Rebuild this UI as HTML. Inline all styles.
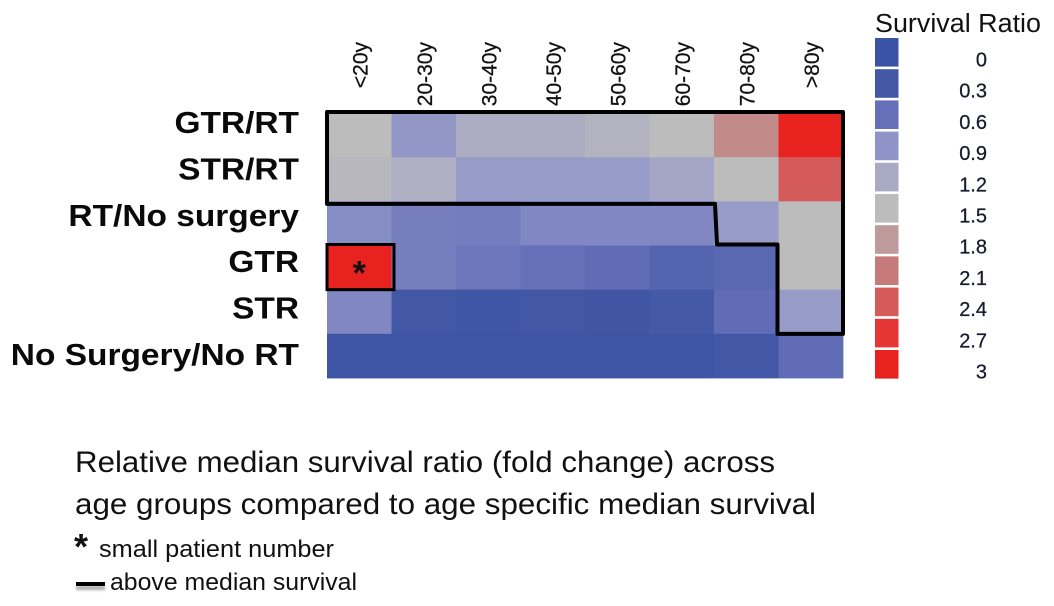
<!DOCTYPE html>
<html>
<head>
<meta charset="utf-8">
<title>Survival Ratio Heatmap</title>
<style>
html,body{margin:0;padding:0;background:#fff;}
svg{display:block;}
text{font-family:"Liberation Sans",sans-serif;}
</style>
</head>
<body>
<svg id="chart" width="1054" height="606" viewBox="0 0 1054 606" xmlns="http://www.w3.org/2000/svg">
  <defs><filter id="soft" x="-20%" y="-200%" width="140%" height="500%"><feGaussianBlur stdDeviation="1.2"></feGaussianBlur></filter></defs>
  <g id="cells"></g>
  <g id="colLabels"></g>
  <g id="rowLabels"></g>
  <g id="outlines"></g>
  <g id="legend"></g>
  <text x="875" y="32" font-size="25.5" textLength="166" lengthAdjust="spacingAndGlyphs" fill="#111">Survival Ratio</text>
  <g>
    <text x="75" y="472" font-size="30" textLength="700" lengthAdjust="spacingAndGlyphs" fill="#111">Relative median survival ratio (fold change) across</text>
    <text x="75" y="514" font-size="30" textLength="741" lengthAdjust="spacingAndGlyphs" fill="#111">age groups compared to age specific median survival</text>
    <text x="74" y="559" font-size="36" font-weight="bold" fill="#111">*</text>
    <text x="99" y="557" font-size="24" textLength="235" lengthAdjust="spacingAndGlyphs" fill="#111">small patient number</text>
    <rect x="76" y="586" width="29" height="4" fill="#888" opacity="0.7" filter="url(#soft)"></rect>
    <rect x="76" y="582" width="29" height="4" fill="#000"></rect>
    <text x="110" y="590" font-size="24" textLength="247" lengthAdjust="spacingAndGlyphs" fill="#111">above median survival</text>
  </g>
</svg>
<script>
const ages = ["<20y","20-30y","30-40y","40-50y","50-60y","60-70y","70-80y",">80y"];
const treatments = ["GTR/RT","STR/RT","RT/No surgery","GTR","STR","No Surgery/No RT"];
const ratios = [
  [1.5,0.95,1.25,1.25,1.35,1.5,1.95,3.0],
  [1.42,1.28,1.0,1.0,1.0,1.15,1.5,2.4],
  [0.85,0.72,0.7,0.8,0.8,0.8,1.0,1.5],
  [3.0,0.72,0.65,0.6,0.55,0.45,0.5,1.5],
  [0.8,0.3,0.15,0.3,0.2,0.32,0.55,1.0],
  [0.1,0.1,0.1,0.1,0.1,0.1,0.25,0.55]
];
const legendTicks = [0,0.3,0.6,0.9,1.2,1.5,1.8,2.1,2.4,2.7,3];
const legendLabels = ["0","0.3","0.6","0.9","1.2","1.5","1.8","2.1","2.4","2.7","3"];
const rampColors = ["#3a53a4","#4358a5","#6670b8","#8e93c8","#a9aac4","#bdbcbc","#bf9a9a","#c77a7a","#d55a5a","#e53535","#e8221f"];

const NS = "http://www.w3.org/2000/svg";
const plot = {left:327, right:843, top:113, bottom:378};
const xAt = i => plot.left + i * (plot.right - plot.left) / ages.length;
const yAt = j => plot.top + j * (plot.bottom - plot.top) / treatments.length;
const hex = (c,i) => parseInt(c.substr(1 + i * 2, 2), 16);
function colorFor(v) {
  const t = Math.max(0, Math.min(3, v)) / 3 * (rampColors.length - 1);
  const a = Math.min(Math.floor(t), rampColors.length - 2);
  const f = t - a;
  const rgb = [0,1,2].map(i => Math.round(hex(rampColors[a],i) * (1 - f) + hex(rampColors[a + 1],i) * f));
  return "rgb(" + rgb.join(",") + ")";
}
function make(tag, attrs, parent, txt) {
  const el = document.createElementNS(NS, tag);
  Object.keys(attrs).forEach(k => el.setAttribute(k, attrs[k]));
  if (txt !== undefined) el.textContent = txt;
  parent.appendChild(el);
  return el;
}

const cellsG = document.getElementById("cells");
ratios.forEach((row, j) => {
  row.forEach((v, i) => {
    const cell = make("rect", {x:xAt(i), y:yAt(j), width:xAt(i+1)-xAt(i)+0.4, height:yAt(j+1)-yAt(j)+0.4, fill:colorFor(v)}, cellsG);
    
    
  });
});

const colG = document.getElementById("colLabels");
ages.forEach((label, i) => {
  const px = xAt(i) + (xAt(i+1) - xAt(i)) / 2 + 8;
  const t = make("text", {transform:"translate(" + px + ",42) rotate(-90)", "text-anchor":"end", "font-size":21, fill:"#111", stroke:"#111", "stroke-width":0.25}, colG, label);
  
  
});
make("rect", {x:plot.left, y:105.5, width:plot.right-plot.left, height:6, fill:"#fff"}, colG);

const rowG = document.getElementById("rowLabels");
const rowLabelY = j => 133 + j * 46.4;
treatments.forEach((label, j) => {
  const t = make("text", {x:0, y:rowLabelY(j), transform:"translate(299,0) scale(1.08,1)", "text-anchor":"end", "font-size":31, "font-weight":"bold", fill:"#0a0a0a"}, rowG, label);
  
  
});

const outG = document.getElementById("outlines");
const stepPath = [
  [xAt(0),yAt(0)-1],[xAt(8),yAt(0)-1],[xAt(8),yAt(5)],[xAt(7)-1,yAt(5)],[xAt(7)-1,yAt(3)-1],
  [xAt(6)+3,yAt(3)-1],[xAt(6)+1,yAt(2)+2.5],[xAt(0),yAt(2)+2.5]
];
const outline = make("polygon", {points:stepPath.map(p => p.join(",")).join(" "), fill:"none", stroke:"#000", "stroke-width":4, "stroke-linejoin":"round"}, outG);


const flag = make("rect", {x:xAt(0), y:yAt(3)-1, width:xAt(1)-xAt(0)+2.5, height:yAt(4)-yAt(3)+1, fill:"none", stroke:"#000", "stroke-width":3}, outG);


const star = make("text", {x:xAt(0)+(xAt(1)-xAt(0))/2, y:yAt(3)+(yAt(4)-yAt(3))/2+17, "text-anchor":"middle", "font-size":34, "font-weight":"bold", fill:"#111"}, outG, "*");



const legG = document.getElementById("legend");
const legendY = k => 38 + k * 31.2;
legendTicks.forEach((v, k) => {
  const sw = make("rect", {x:875, y:legendY(k), width:23.5, height:28.6, fill:colorFor(v)}, legG);
  
  
  const t = make("text", {x:987, y:legendY(k)+28.5, "text-anchor":"end", "font-size":20, fill:"#1a1a2e", stroke:"#1a1a2e", "stroke-width":0.25}, legG, legendLabels[k]);
  
  
});
</script>
</body>
</html>
